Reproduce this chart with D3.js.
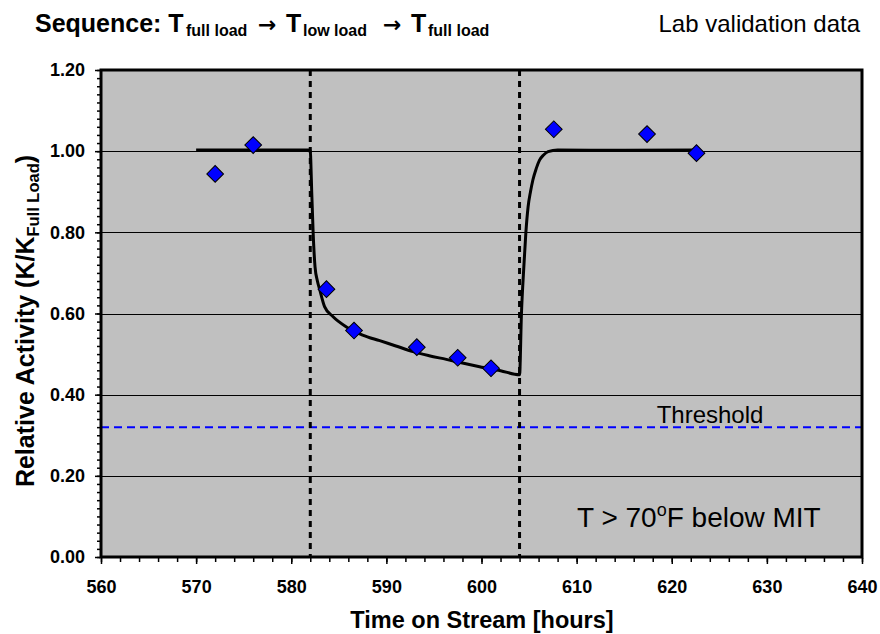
<!DOCTYPE html>
<html>
<head>
<meta charset="utf-8">
<script src="https://cdn.jsdelivr.net/npm/d3@7"></script>
<style>
  html, body { margin: 0; padding: 0; background: #ffffff; }
  svg { display: block; font-family: "Liberation Sans", Arial, sans-serif; }
</style>
</head>
<body>
<svg id="chart" width="880" height="634"></svg>
<script>
// ---- Data ----
const labTime = [572, 576, 583.7, 586.6, 593.2, 597.5, 601.0, 607.6, 617.4, 622.6];
const labActivity = [0.944, 1.015, 0.660, 0.558, 0.517, 0.491, 0.465, 1.054, 1.042, 0.995];

const modelTime = [570, 582, 582.05, 582.15, 582.3, 582.5, 582.75, 583, 583.5, 584.4, 585.8, 587.5, 589.3, 591, 592.8, 594.5, 596.3, 598, 599.8, 602, 604, 604.2, 604.45, 604.66, 604.9, 605.15, 605.4, 605.75, 606.1, 606.5, 607, 608, 615, 622.6];
const modelActivity = [1.003, 1.003, 0.98, 0.90, 0.80, 0.715, 0.68, 0.658, 0.617, 0.592, 0.567, 0.547, 0.533, 0.52, 0.506, 0.496, 0.487, 0.478, 0.469, 0.459, 0.449, 0.600, 0.715, 0.798, 0.863, 0.90, 0.929, 0.957, 0.978, 0.99, 0.999, 1.003, 1.002, 1.003];

const phaseChanges = [582, 604];
const thresholdValue = [0.32];

const xTicks = [560, 570, 580, 590, 600, 610, 620, 630, 640];
const yTicks = [0.0, 0.2, 0.4, 0.6, 0.8, 1.0, 1.2];
const gridValues = [0.2, 0.4, 0.6, 0.8, 1.0];

const titleParts = ["full load", "low load", "full load"];

// ---- Layout ----
const svg = d3.select("#chart");
const L = 101, R = 862, T = 70, B = 557;

const x = d3.scaleLinear().domain([560, 640]).range([L, R]);
const y = d3.scaleLinear().domain([0, 1.2]).range([B, T]);

// plot background
svg.append("rect").attr("x", L).attr("y", T).attr("width", R - L).attr("height", B - T)
  .attr("fill", "#c0c0c0");

// gridlines
svg.append("g").selectAll("line").data(gridValues).join("line")
  .attr("x1", L).attr("x2", R)
  .attr("y1", d => Math.round(y(d)) + 0.5).attr("y2", d => Math.round(y(d)) + 0.5)
  .attr("stroke", "#000").attr("stroke-width", 1);

// threshold
svg.append("g").selectAll("line").data(thresholdValue).join("line")
  .attr("x1", L).attr("x2", R)
  .attr("y1", d => y(d)).attr("y2", d => y(d))
  .attr("stroke", "#0000ff").attr("stroke-width", 2).attr("stroke-dasharray", "8,5");

svg.append("text").attr("x", 710).attr("y", 423).attr("text-anchor", "middle")
  .attr("font-size", 24).attr("fill", "#000").text("Threshold");

// phase change lines
svg.append("g").selectAll("line").data(phaseChanges).join("line")
  .attr("x1", d => x(d)).attr("x2", d => x(d))
  .attr("y1", T).attr("y2", B)
  .attr("stroke", "#000").attr("stroke-width", 3).attr("stroke-dasharray", "6,5");

// model line
const line = d3.line().x((d, i) => x(modelTime[i])).y(d => y(d)).curve(d3.curveMonotoneX);
svg.append("path").attr("d", line(modelActivity))
  .attr("fill", "none").attr("stroke", "#000").attr("stroke-width", 3);

// lab points
const sym = d3.symbol().type(d3.symbolSquare).size(140);
svg.append("g").selectAll("path").data(labActivity).join("path")
  .attr("d", sym)
  .attr("transform", (d, i) => `translate(${x(labTime[i])},${y(d)}) rotate(45)`)
  .attr("fill", "#0000ff").attr("stroke", "#000").attr("stroke-width", 1);

// frame
svg.append("rect").attr("x", L).attr("y", T).attr("width", R - L).attr("height", B - T)
  .attr("fill", "none").attr("stroke", "#000").attr("stroke-width", 3);

// y axis
const yMinor = d3.range(0, 121, 2).map(v => v / 100);
svg.append("g").attr("transform", `translate(${L - 1},0)`)
  .call(d3.axisLeft(y).tickValues(yMinor).tickSize(3).tickFormat(""))
  .call(g => g.select(".domain").remove())
  .call(g => g.selectAll("line").attr("stroke", "#000").attr("stroke-width", 1.5));
const yAx = svg.append("g").attr("transform", `translate(${L - 1},0)`)
  .call(d3.axisLeft(y).tickValues(yTicks).tickSize(5).tickPadding(10).tickFormat(d3.format(".2f")));
yAx.select(".domain").remove();
yAx.selectAll("line").attr("stroke", "#000").attr("stroke-width", 1.5);
yAx.selectAll("text").attr("font-size", 18).attr("font-weight", "bold")
  .attr("font-family", "Liberation Sans, Arial, sans-serif").attr("fill", "#000");

// x axis
const xMinor = d3.range(560, 641, 2);
svg.append("g").attr("transform", `translate(0,${B + 1})`)
  .call(d3.axisBottom(x).tickValues(xMinor).tickSize(4).tickFormat(""))
  .call(g => g.select(".domain").remove())
  .call(g => g.selectAll("line").attr("stroke", "#000").attr("stroke-width", 1.5));
const xAx = svg.append("g").attr("transform", `translate(0,${B + 1})`)
  .call(d3.axisBottom(x).tickValues(xTicks).tickSize(6).tickPadding(16).tickFormat(d3.format("d")));
xAx.select(".domain").remove();
xAx.selectAll("line").attr("stroke", "#000").attr("stroke-width", 1.5);
xAx.selectAll("text").attr("font-size", 18).attr("font-weight", "bold")
  .attr("font-family", "Liberation Sans, Arial, sans-serif").attr("fill", "#000");

// axis titles
svg.append("text").attr("x", 482).attr("y", 628).attr("text-anchor", "middle")
  .attr("font-size", 23.5).attr("font-weight", "bold").text("Time on Stream [hours]");

const yt = svg.append("text").attr("transform", "translate(34,321) rotate(-90)")
  .attr("text-anchor", "middle").attr("font-size", 25).attr("font-weight", "bold");
yt.append("tspan").text("Relative Activity (K/K");
yt.append("tspan").attr("font-size", 16.5).attr("dy", 5).text("Full Load");
yt.append("tspan").attr("dy", -5).text(")");

// title (piece positions follow the reference layout)
const tt = svg.append("text").attr("y", 32).attr("font-size", 25).attr("font-weight", "bold");
const subX = [186, 303, 428];
const arrowX = [258, 383];
const tX = [286, 411];
tt.append("tspan").attr("x", 35).text("Sequence: T");
titleParts.forEach((p, i) => {
  if (i > 0) {
    tt.append("tspan").attr("x", arrowX[i - 1]).attr("y", 32)
      .attr("font-family", "DejaVu Sans").attr("font-size", 22).text("\u2192");
    tt.append("tspan").attr("x", tX[i - 1]).attr("y", 32).text("T");
  }
  tt.append("tspan").attr("x", subX[i]).attr("y", 36).attr("font-size", 16).text(p);
});

svg.append("text").attr("x", 860).attr("y", 32).attr("text-anchor", "end")
  .attr("font-size", 24).text("Lab validation data");

// annotation
const an = svg.append("text").attr("x", 577).attr("y", 527).attr("font-size", 28);
an.append("tspan").text("T > 70");
an.append("tspan").attr("font-size", 18).attr("dy", -11).text("o");
an.append("tspan").attr("dy", 11).text("F below MIT");
</script>
</body>
</html>
